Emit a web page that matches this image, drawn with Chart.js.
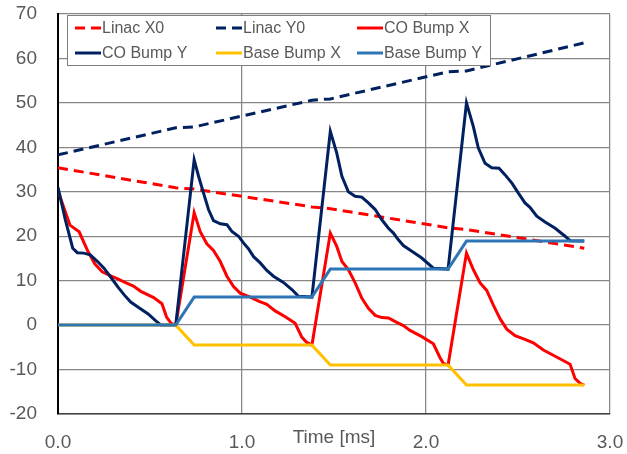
<!DOCTYPE html>
<html>
<head>
<meta charset="utf-8">
<script src="https://cdn.jsdelivr.net/npm/chart.js@4"></script>
<style>
  body { margin: 0; background: #fff; }
</style>
</head>
<body>
<canvas id="bump_chart" width="627" height="454"></canvas>
<script>
// time axis [ms] and values
var linacX0_t = [0, 0.64, 0.74, 1.38, 1.48, 2.12, 2.22, 2.86];
var linacX0   = [35.4, 30.9, 30.6, 26.6, 26.2, 21.9, 21.5, 17.3];

var linacY0_t = [0, 0.64, 0.74, 1.38, 1.48, 2.12, 2.22, 2.86];
var linacY0   = [38.3, 44.4, 44.6, 50.6, 50.9, 57.0, 57.2, 63.5];

var coBumpX_t = [0.000, 0.065, 0.115, 0.160, 0.200, 0.240, 0.290, 0.330, 0.370, 0.410, 0.450, 0.520, 0.565, 0.590, 0.615, 0.640,
                 0.740, 0.773, 0.809, 0.845, 0.882, 0.918, 0.954, 0.990, 1.045, 1.090, 1.135, 1.180, 1.235, 1.289, 1.325, 1.352, 1.380,
                 1.480, 1.515, 1.543, 1.578, 1.615, 1.651, 1.687, 1.724, 1.760, 1.796, 1.841, 1.877, 1.913, 1.977, 2.040, 2.077, 2.094, 2.120,
                 2.220, 2.257, 2.294, 2.330, 2.366, 2.403, 2.439, 2.484, 2.538, 2.583, 2.638, 2.702, 2.783, 2.810, 2.837, 2.860];
var coBumpX   = [30.2, 22.5, 21.0, 16.8, 13.8, 12.0, 11.0, 10.3, 9.5, 8.8, 7.6, 6.2, 4.8, 1.8, 0.4, 0,
                 25.3, 21.0, 18.3, 16.8, 14.3, 11.0, 8.7, 7.2, 6.3, 5.4, 4.7, 3.2, 1.9, 0.4, -2.7, -3.9, -4.5,
                 20.7, 17.7, 14.3, 12.5, 9.5, 6.1, 3.8, 2.2, 1.7, 1.6, 0.6, -0.1, -1.2, -2.6, -4.2, -7.4, -8.6, -9.0,
                 16.2, 12.5, 9.5, 7.8, 4.5, 1.4, -0.9, -2.4, -3.2, -4.0, -5.6, -7.0, -8.8, -12.0, -13.1, -13.5];

var coBumpY_t = [0.000, 0.040, 0.080, 0.105, 0.140, 0.175, 0.215, 0.250, 0.290, 0.325, 0.360, 0.395, 0.440, 0.490, 0.530, 0.560, 0.640,
                 0.740, 0.764, 0.791, 0.818, 0.845, 0.882, 0.918, 0.945, 0.981, 1.008, 1.035, 1.063, 1.099, 1.135, 1.171, 1.225, 1.271, 1.307, 1.380,
                 1.480, 1.515, 1.543, 1.578, 1.615, 1.651, 1.687, 1.724, 1.760, 1.796, 1.823, 1.850, 1.877, 1.923, 1.977, 2.040, 2.120,
                 2.220, 2.257, 2.284, 2.321, 2.357, 2.397, 2.430, 2.468, 2.502, 2.538, 2.565, 2.602, 2.647, 2.702, 2.756, 2.783, 2.860];
var coBumpY   = [31.0, 23.7, 17.3, 16.3, 16.2, 15.8, 14.3, 12.8, 10.6, 8.6, 6.8, 5.2, 3.9, 2.5, 1.0, 0, 0,
                 37.2, 33.5, 29.7, 26.0, 23.5, 22.8, 22.6, 21.1, 20.0, 18.5, 17.2, 15.4, 14.0, 12.3, 11.0, 9.6, 8.0, 6.5, 6.3,
                 43.6, 38.7, 33.5, 30.0, 29.0, 28.8, 27.5, 26.0, 23.7, 21.8, 20.7, 19.2, 17.9, 16.6, 15.1, 12.8, 12.6,
                 50.0, 44.7, 39.9, 36.4, 35.4, 35.3, 33.8, 31.9, 29.7, 27.5, 26.5, 24.5, 23.2, 21.8, 20.0, 19.0, 18.9];

var baseX_t = [0, 0.64, 0.74, 1.38, 1.48, 2.12, 2.22, 2.86];
var baseX   = [0, 0, -4.5, -4.5, -9.0, -9.0, -13.5, -13.5];

var baseY_t = [0, 0.64, 0.74, 1.38, 1.48, 2.12, 2.22, 2.86];
var baseY   = [0, 0, 6.3, 6.3, 12.6, 12.6, 18.9, 18.9];

var xTicks = [0, 1, 2, 3];

function pts(t, v){
    var out = [];
    for(var i = 0; i < t.length; i++){
        out.push({x: t[i], y: v[i]});
    }
    return out;
}

var textGray = '#595959';
var fontName = '"Liberation Sans", Arial, sans-serif';

function series(label, t, v, color, dash, order){
    return {
        label: label,
        data: pts(t, v),
        borderColor: color,
        backgroundColor: color,
        borderWidth: 3,
        borderDash: dash,
        pointRadius: 0,
        tension: 0,
        fill: false,
        order: order
    };
}

// no extra room for overhanging labels, layout padding decides
function noPad(axis){
    axis.paddingLeft = 0;
    axis.paddingRight = 0;
    axis.paddingTop = 0;
    axis.paddingBottom = 0;
}

// legend box drawn over the plot, 3 columns x 2 rows
var boxLegend = {
    id: 'boxLegend',
    afterDatasetsDraw: function(chart){
        var ctx = chart.ctx;
        ctx.save();
        ctx.fillStyle = '#ffffff';
        ctx.fillRect(67, 15, 423, 50);
        ctx.strokeStyle = '#7f7f7f';
        ctx.lineWidth = 1;
        ctx.strokeRect(67.5, 15.5, 423, 50);
        chart.data.datasets.forEach(function(ds, i){
            var x = 75 + (i % 3) * 141;
            var y = 28 + Math.floor(i / 3) * 25;
            ctx.strokeStyle = ds.borderColor;
            ctx.lineWidth = 3;
            ctx.setLineDash(ds.borderDash || []);
            ctx.beginPath();
            ctx.moveTo(x, y);
            ctx.lineTo(x + 26, y);
            ctx.stroke();
            ctx.setLineDash([]);
            ctx.fillStyle = textGray;
            ctx.font = '16px ' + fontName;
            ctx.textBaseline = 'middle';
            ctx.textAlign = 'left';
            ctx.fillText(ds.label, x + 27, y + 1);
        });
        ctx.restore();
    }
};

new Chart(document.getElementById('bump_chart'), {
    type: 'line',
    data: {
        datasets: [
            series('Linac X0', linacX0_t, linacX0, '#ff0000', [10, 6], 5),
            series('Linac Y0', linacY0_t, linacY0, '#002060', [10, 6], 4),
            series('CO Bump X', coBumpX_t, coBumpX, '#ff0000', [], 3),
            series('CO Bump Y', coBumpY_t, coBumpY, '#002060', [], 2),
            series('Base Bump X', baseX_t, baseX, '#ffc000', [], 1),
            series('Base Bump Y', baseY_t, baseY, '#2e75b6', [], 0)
        ]
    },
    options: {
        responsive: false,
        animation: false,
        layout: { padding: { top: 14, right: 17, left: 0, bottom: 0 } },
        plugins: {
            legend: { display: false },
            tooltip: { enabled: false }
        },
        scales: {
            x: {
                type: 'linear',
                min: 0,
                max: 3,
                afterBuildTicks: function(axis){
                    axis.ticks = xTicks.map(function(v){ return {value: v}; });
                },
                afterFit: function(axis){ axis.height = 40; noPad(axis); },
                grid: { color: '#868686', lineWidth: 1.25, drawTicks: false },
                border: { color: '#404040', width: 1.5 },
                ticks: {
                    padding: 17,
                    color: textGray,
                    font: { family: fontName, size: 19 },
                    maxRotation: 0,
                    callback: function(v){ return v.toFixed(1); }
                },
                title: {
                    display: true,
                    text: 'Time [ms]',
                    color: textGray,
                    font: { family: fontName, size: 19 },
                    padding: { top: 0, bottom: 5 }
                }
            },
            y: {
                min: -20,
                max: 70,
                afterFit: function(axis){ axis.width = 58; noPad(axis); },
                grid: { color: '#868686', lineWidth: 1.25, drawTicks: false },
                border: { color: '#000000', width: 2 },
                ticks: {
                    stepSize: 10,
                    padding: 21,
                    color: textGray,
                    font: { family: fontName, size: 19 }
                }
            }
        }
    },
    plugins: [boxLegend]
});
</script>
</body>
</html>
